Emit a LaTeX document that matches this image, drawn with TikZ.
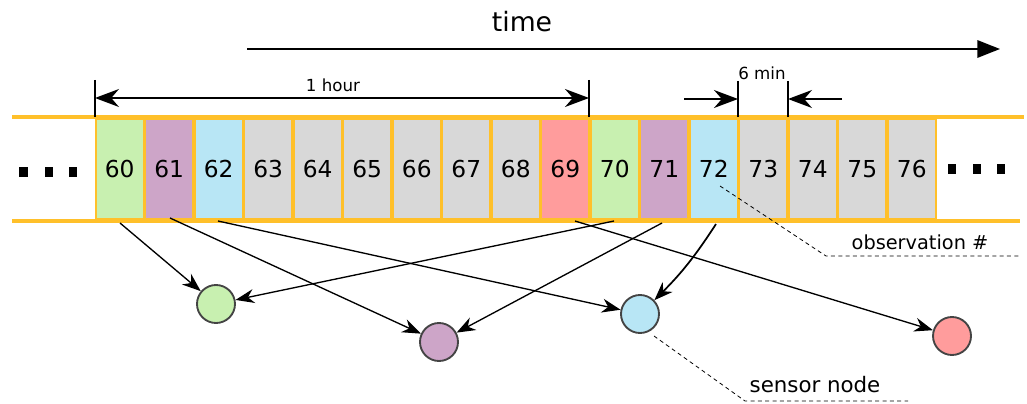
\documentclass[tikz,border=0pt]{standalone}
\usepackage{fontspec}
\setmainfont{DejaVu Sans}
\usetikzlibrary{arrows.meta}
\definecolor{cg}{HTML}{C8F0B0}
\definecolor{cp}{HTML}{CDA5C8}
\definecolor{cb}{HTML}{B8E6F5}
\definecolor{cy}{HTML}{D8D8D8}
\definecolor{cr}{HTML}{FF9C9C}
\definecolor{corange}{HTML}{FFC02A}
\definecolor{cedge}{HTML}{444444}
\tikzset{
  cell/.style={draw=corange, line width=1.5pt, inner sep=0pt, minimum width=35.8pt, minimum height=75.5pt, font=\fontsize{17.5}{17.5}\selectfont},
  sensor/.style={circle, draw=cedge, line width=1.4pt, inner sep=0pt, minimum size=28.5pt},
  conn/.style={line width=1pt, -{Stealth[length=14pt,width=10.5pt]}},
  dimtick/.style={line width=1.6pt},
  dimarrow/.style={line width=1.2pt},
  sq/.style={fill=black, inner sep=0pt, minimum width=6.5pt, minimum height=7.5pt},
  lbl/.style={inner sep=0pt},
  strip/.style={draw=corange, line width=2.4pt},
  leader/.style={line width=0.6pt, dash pattern=on 3pt off 2.5pt}
}
\begin{document}
\begin{tikzpicture}[x=0.75pt,y=-0.75pt]
\useasboundingbox (0,0) rectangle (1027,403);
% strip lines
\coordinate (stl) at (12,117); \coordinate (str) at (1024,117);
\coordinate (sbl) at (12,221); \coordinate (sbr) at (1020,221);
\draw[strip] (stl) -- (str);
\draw[strip] (sbl) -- (sbr);
% cells
\foreach \n/\c [count=\i from 0] in {60/cg,61/cp,62/cb,63/cy,64/cy,65/cy,66/cy,67/cy,68/cy,69/cr,70/cg,71/cp,72/cb,73/cy,74/cy,75/cy,76/cy}
  \node[cell, fill=\c] (c\n) at ({95+49.5*\i+24.75},169) {\n};
% dots
\node[sq] (dl1) at (23.5,172) {}; \node[sq] (dl2) at (49,172) {}; \node[sq] (dl3) at (73,172) {};
\node[sq] (dr1) at (952,169) {}; \node[sq] (dr2) at (977,169) {}; \node[sq] (dr3) at (1001,169) {};
% time
\node[lbl, font=\fontsize{20}{20}\selectfont] (time) at (522,22) {time};
\coordinate (ta) at (247,49); \coordinate (tb) at (1000,49);
\draw[line width=1.7pt, -{Triangle[length=17pt,width=13pt]}] (ta) -- (tb);
% 1 hour
\coordinate (h1t) at (95,80); \coordinate (h1b) at (95,117);
\coordinate (h2t) at (589,80); \coordinate (h2b) at (589,117);
\draw[dimtick] (h1t) -- (h1b);
\draw[dimtick] (h2t) -- (h2b);
\coordinate (ha) at (95,98); \coordinate (hb) at (589,98);
\draw[dimarrow, {Stealth[length=18pt,width=13.5pt]}-{Stealth[length=18pt,width=13.5pt]}] (ha) -- (hb);
\node[lbl, font=\fontsize{12.5}{12.5}\selectfont] (hour) at (333,85) {1 hour};
% 6 min
\coordinate (m1t) at (738,81); \coordinate (m1b) at (738,117);
\coordinate (m2t) at (788,81); \coordinate (m2b) at (788,117);
\draw[dimtick] (m1t) -- (m1b);
\draw[dimtick] (m2t) -- (m2b);
\coordinate (ma) at (684,99); \coordinate (mb) at (738,99);
\coordinate (mc) at (842,99); \coordinate (md) at (788,99);
\draw[dimarrow, -{Stealth[length=18pt,width=13.5pt]}] (ma) -- (mb);
\draw[dimarrow, -{Stealth[length=18pt,width=13.5pt]}] (mc) -- (md);
\node[lbl, font=\fontsize{12.5}{12.5}\selectfont] (min) at (762,73) {6 min};
% sensors
\node[sensor, fill=cg] (g) at (216,304) {};
\node[sensor, fill=cp] (p) at (439,342) {};
\node[sensor, fill=cb] (b) at (640,314) {};
\node[sensor, fill=cr] (r) at (952,336) {};
% connectors
\coordinate (s60) at (120,223);
\coordinate (s61) at (170,218);
\coordinate (s62) at (218,221);
\coordinate (s69) at (575,221);
\coordinate (s70) at (614,221);
\coordinate (s71) at (662,223);
\coordinate (s72) at (716,224);
\draw[conn] (s60) -- (g);
\draw[conn] (s61) -- (p);
\draw[conn] (s62) -- (b);
\draw[conn] (s70) -- (g);
\draw[conn] (s71) -- (p);
\draw[conn] (s69) -- (r);
\draw[conn, line width=1.3pt] (s72) to[bend left=6] (b);
% leaders
\coordinate (o1) at (720,186); \coordinate (o2) at (826,256); \coordinate (o3) at (1020,256);
\draw[leader] (o1) -- (o2) -- (o3);
\node[lbl, font=\fontsize{14.5}{14.5}\selectfont] (obs) at (920,242) {observation \#};
\coordinate (n1) at (654,336); \coordinate (n2) at (745,401); \coordinate (n3) at (908,401);
\draw[leader] (n1) -- (n2) -- (n3);
\node[lbl, font=\fontsize{16}{16}\selectfont] (sn) at (815,385) {sensor node};
\end{tikzpicture}
\end{document}
